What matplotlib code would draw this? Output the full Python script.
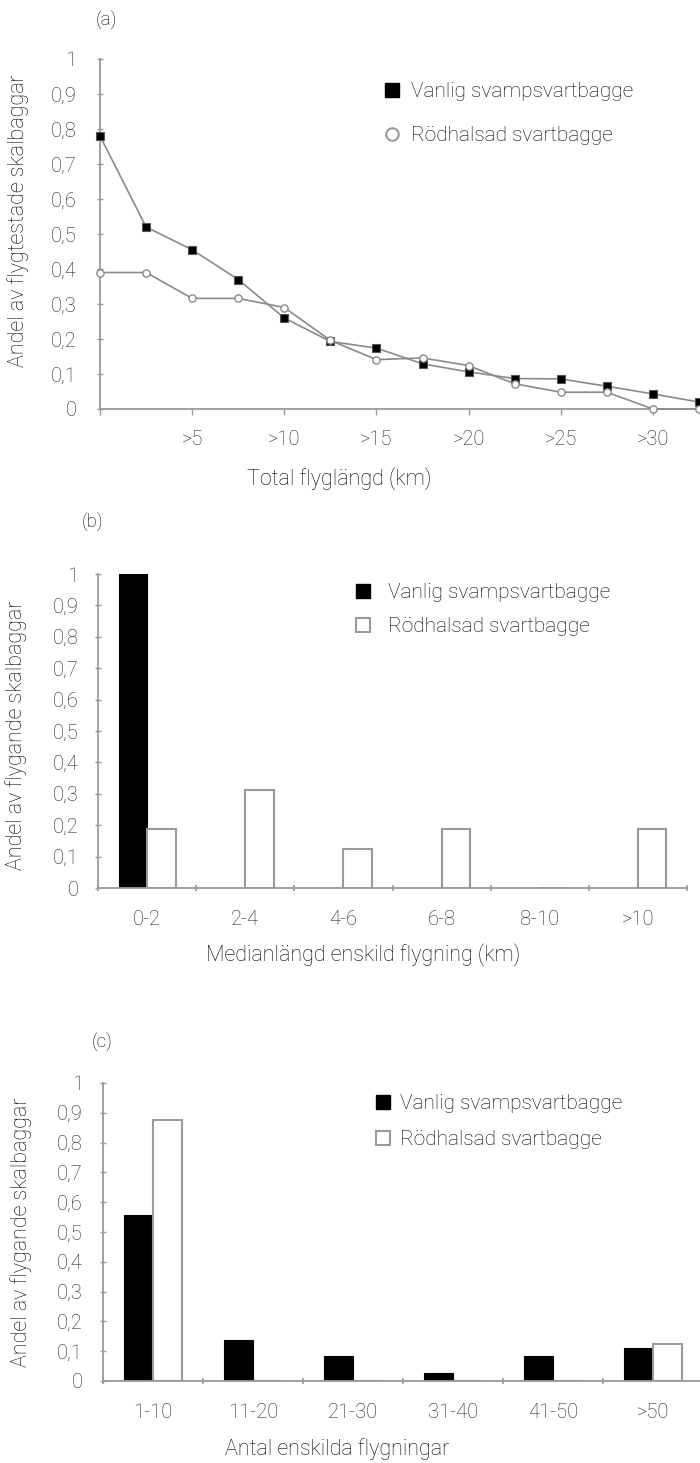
import matplotlib
matplotlib.use("Agg")
import matplotlib.pyplot as plt
from matplotlib.lines import Line2D
from matplotlib.ticker import FixedLocator
import numpy as np

plt.rcParams['font.family'] = ['Roboto', 'DejaVu Sans']
plt.rcParams['font.weight'] = 'light'
plt.rcParams['axes.labelweight'] = 'light'
plt.rcParams['font.size'] = 14
plt.rcParams['axes.labelsize'] = 15.5

# (a) total flight length
dist_km = [0, 2.5, 5, 7.5, 10, 12.5, 15, 17.5, 20, 22.5, 25, 27.5, 30, 32.5]
vanlig_a = [0.78, 0.52, 0.455, 0.37, 0.26, 0.193, 0.174, 0.129, 0.106, 0.087, 0.086, 0.065, 0.043, 0.02]
rod_a = [0.39, 0.39, 0.316, 0.316, 0.29, 0.196, 0.141, 0.146, 0.124, 0.072, 0.048, 0.048, 0.0, 0.0]
xticks_a = [0, 5, 10, 15, 20, 25, 30]
xticklabels_a = ['', '>5', '>10', '>15', '>20', '>25', '>30']

# (b) median single flight length
cats_b = ['0-2', '2-4', '4-6', '6-8', '8-10', '>10']
vanlig_b = [1.0, 0, 0, 0, 0, 0]
rod_b = [0.1875, 0.3125, 0.125, 0.1875, 0, 0.1875]

# (c) number of single flights
cats_c = ['1-10', '11-20', '21-30', '31-40', '41-50', '>50']
vanlig_c = [0.556, 0.139, 0.083, 0.028, 0.083, 0.111]
rod_c = [0.875, 0, 0, 0, 0, 0.125]

yticks = np.arange(0, 11) / 10
yticklabels = ['0' if v == 0 else ('1' if v == 1 else ('%.1f' % v).replace('.', ',')) for v in yticks]

names = ['Vanlig svampsvartbagge', 'Rödhalsad svartbagge']
GREY = '#9a9a9a'
LINE = '#8a8a8a'

W, H = 700, 1463
fig = plt.figure(figsize=(W / 100, H / 100), dpi=100)


def px_axes(left, right, top, bottom):
    return fig.add_axes([left / W, 1 - bottom / H, (right - left) / W, (bottom - top) / H])


def style(ax, ypad):
    for s in ['top', 'right']:
        ax.spines[s].set_visible(False)
    for s in ['left', 'bottom']:
        ax.spines[s].set_color(GREY)
        ax.spines[s].set_linewidth(1.3)
    ax.set_ylim(0, 1)
    ax.set_yticks(yticks)
    ax.set_yticklabels(yticklabels)
    ax.tick_params(axis='y', direction='inout', length=4, width=1, color=GREY, pad=ypad,
                   labelcolor='#222222', labelsize=14.5)
    ax.tick_params(axis='x', labelcolor='#222222', labelsize=14.5)


def legend(ax, handles, x, y, textpad, spacing):
    ax.legend(handles, names, loc='upper left', bbox_to_anchor=(x / W, 1 - y / H),
              bbox_transform=fig.transFigure, frameon=False, borderpad=0, borderaxespad=0,
              handlelength=1.0, handletextpad=textpad, labelspacing=spacing, fontsize=15)


# ---------- (a)
ax = px_axes(100, 699, 59, 409)
ax.plot(dist_km, vanlig_a, color=LINE, lw=1.2, marker='s', ms=5.2, mfc='black', mec='#555555',
        mew=0.8, clip_on=False, zorder=3)
ax.plot(dist_km, rod_a, color=LINE, lw=1.2, marker='o', ms=5.2, mfc='white', mec=LINE,
        mew=1.0, clip_on=False, zorder=3)
ax.set_xlim(0, 32.5)
style(ax, 15)
ax.set_xticks(xticks_a)
ax.set_xticklabels(xticklabels_a)
ax.tick_params(axis='x', direction='out', length=4, width=1, color=GREY, pad=11)
ax.set_ylabel('Andel av flygtestade skalbaggar')
ax.yaxis.set_label_coords(-0.118, 0.537)
ax.set_xlabel('Total flyglängd (km)')
ax.xaxis.set_label_coords(0.40, -0.165)
fig.text(106 / W, 1 - 20 / H, '(a)', ha='center', va='center', fontsize=13.5)
legend(ax, [Line2D([], [], ls='none', marker='s', ms=10, mfc='black', mec='black'),
            Line2D([], [], ls='none', marker='o', ms=9, mfc='white', mec=GREY, mew=1.5)],
       382, 82, 0.37, 1.2)


def bars(ax, cats, v1, v2, textpad, spacing, lx, ly):
    x = np.arange(len(cats))
    w = 0.29
    ax.bar(x - w / 2, v1, w, color='black', edgecolor='black', lw=0.8, zorder=2)
    ax.bar(x + w / 2, v2, w, color='white', edgecolor=GREY, lw=1.5, zorder=2)
    ax.set_xlim(-0.5, len(cats) - 0.5)
    ax.set_xticks(x)
    ax.set_xticklabels(cats)
    ax.xaxis.set_minor_locator(FixedLocator(np.arange(len(cats) + 1) - 0.5))
    ax.tick_params(axis='x', which='major', length=0, pad=16)
    ax.tick_params(axis='x', which='minor', direction='inout', length=5, width=1.2, color=GREY)
    legend(ax, [Line2D([], [], ls='none', marker='s', ms=10, mfc='black', mec='black'),
                Line2D([], [], ls='none', marker='s', ms=10, mfc='white', mec=GREY, mew=1.5)],
           lx, ly, textpad, spacing)


# ---------- (b)
ax = px_axes(98, 687, 574, 888)
style(ax, 12)
bars(ax, cats_b, vanlig_b, rod_b, 0.7, 0.72, 353, 583)
ax.set_ylabel('Andel av flygande skalbaggar')
ax.yaxis.set_label_coords(-0.12, 0.487)
ax.set_xlabel('Medianlängd enskild flygning (km)')
ax.xaxis.set_label_coords(0.45, -0.175)
fig.text(92 / W, 1 - 523 / H, '(b)', ha='center', va='center', fontsize=13.5)

# ---------- (c)
ax = px_axes(103, 703, 1083, 1381)
style(ax, 12.5)
bars(ax, cats_c, vanlig_c, rod_c, 0.3, 0.82, 373, 1094)
ax.set_ylabel('Andel av flygande skalbaggar')
ax.yaxis.set_label_coords(-0.118, 0.5)
ax.set_xlabel('Antal enskilda flygningar')
ax.xaxis.set_label_coords(0.39, -0.193)
fig.text(102 / W, 1 - 1043 / H, '(c)', ha='center', va='center', fontsize=13.5)

fig.savefig('out.png', dpi=100)
